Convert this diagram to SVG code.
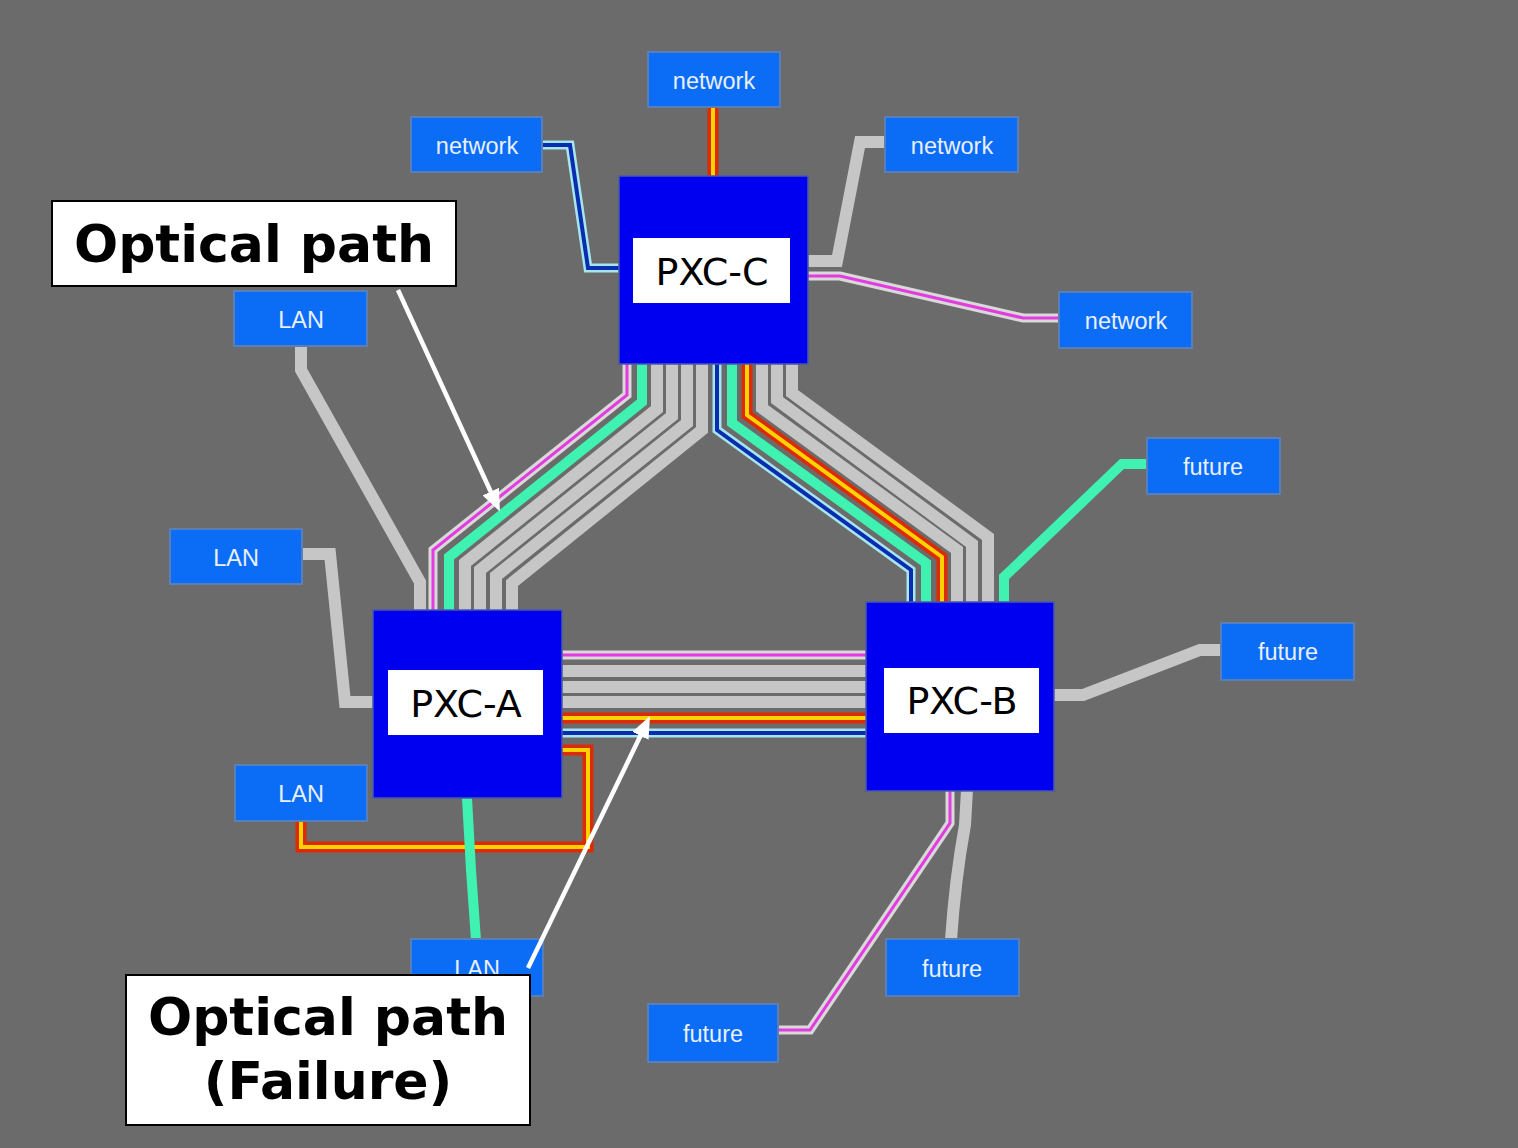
<svg xmlns="http://www.w3.org/2000/svg" width="1518" height="1148" viewBox="0 0 1518 1148">
<style>
.bg{fill:#6b6b6b}
.f{fill:none;stroke-linejoin:miter;stroke-miterlimit:10}
.g{stroke:#c6c6c6;stroke-width:12}
.mo{stroke:#d9d9d9;stroke-width:9}
.mi{stroke:#e23ce0;stroke-width:3}
.t{stroke:#3ff2b2;stroke-width:10}
.ro{stroke:#dd2a00;stroke-width:11}
.ri{stroke:#ffd200;stroke-width:4}
.bo{stroke:#a6e6ee;stroke-width:9}
.bi{stroke:#0a2cb0;stroke-width:4}
.sn rect{fill:#0b6cf6;stroke:#5a7fb8;stroke-width:2}
.sn text{fill:#e8f0ff;font-family:"Liberation Sans",Arial,sans-serif;font-size:23.5px;text-anchor:middle}
.px .box{fill:#0000f0;stroke:#4a5aa8;stroke-width:1.5}
.px .lbl{fill:#ffffff}
.px text{fill:#000;font-family:"DejaVu Sans",Verdana,sans-serif;font-size:38px;text-anchor:middle}
.co rect{fill:#fff;stroke:#000;stroke-width:2}
.co text{fill:#000;font-family:"DejaVu Sans",Verdana,sans-serif;font-weight:bold;font-size:52px;text-anchor:middle}
.ar{stroke:#fff;stroke-width:4.5;fill:none}
</style>
<defs>
<marker id="ah" markerUnits="userSpaceOnUse" markerWidth="22" markerHeight="18" refX="10" refY="9" orient="auto">
<path d="M0,0 L22,9 L0,18 z" fill="#fff"/>
</marker>
<!-- C to A bundle -->
<path id="ca0" class="f" d="M627 364 V395 L433 550 V611"/>
<path id="ca1" class="f" d="M642 364 V402 L449 557 V611"/>
<path id="ca2" class="f" d="M657 364 V409 L465 563 V611"/>
<path id="ca3" class="f" d="M672 364 V416 L480 570 V611"/>
<path id="ca4" class="f" d="M687 364 V423 L496 576 V611"/>
<path id="ca5" class="f" d="M702 364 V430 L512 583 V611"/>
<!-- C to B bundle -->
<path id="cb0" class="f" d="M717 364 V430 L911 570 V603"/>
<path id="cb1" class="f" d="M732 364 V423 L926 563 V603"/>
<path id="cb2" class="f" d="M747 364 V415 L942 557 V603"/>
<path id="cb3" class="f" d="M762 364 V408 L957 550 V603"/>
<path id="cb4" class="f" d="M777 364 V400 L972 544 V603"/>
<path id="cb5" class="f" d="M792 364 V393 L988 537 V603"/>
<!-- A to B bundle -->
<path id="ab0" class="f" d="M561 655 H866"/>
<path id="ab1" class="f" d="M561 671 H866"/>
<path id="ab2" class="f" d="M561 687 H866"/>
<path id="ab3" class="f" d="M561 702 H866"/>
<path id="ab4" class="f" d="M561 718 H866"/>
<path id="ab5" class="f" d="M561 733 H866"/>
<!-- access links -->
<path id="nTop" class="f" d="M713 107 V177"/>
<path id="nLeft" class="f" d="M542 145 H570 L588 268 H620"/>
<path id="nRight" class="f" d="M885 142 H860 L837 261 H808"/>
<path id="nFar" class="f" d="M808 276 H840 L1023 318 H1059"/>
<path id="lTop" class="f" d="M301 346 V370 L420 582 V611"/>
<path id="lMid" class="f" d="M302 554 H330 L345 702 H373"/>
<path id="lLow" class="f" d="M301 821 V847 H588 V750 H561"/>
<path id="lBot" class="f" d="M467 798 L471 870 L476 940"/>
<path id="fu1" class="f" d="M1004 603 V577 L1122 464 H1147"/>
<path id="fu2" class="f" d="M1053 695 H1083 L1200 650 H1222"/>
<path id="fu3" class="f" d="M967 790 L965 825 Q955 880 951 940"/>
<path id="fu4" class="f" d="M950 790 V823 L810 1030 H778"/>
</defs>
<rect class="bg" x="0" y="0" width="1518" height="1148"/>
<g id="connectors">
<use href="#ca0" class="mo"/><use href="#ca0" class="mi"/>
<use href="#ca1" class="t"/>
<use href="#ca2" class="g"/>
<use href="#ca3" class="g"/>
<use href="#ca4" class="g"/>
<use href="#ca5" class="g"/>
<use href="#cb0" class="bo"/><use href="#cb0" class="bi"/>
<use href="#cb1" class="t"/>
<use href="#cb2" class="ro"/><use href="#cb2" class="ri"/>
<use href="#cb3" class="g"/>
<use href="#cb4" class="g"/>
<use href="#cb5" class="g"/>
<use href="#ab0" class="mo"/><use href="#ab0" class="mi"/>
<use href="#ab1" class="g"/>
<use href="#ab2" class="g"/>
<use href="#ab3" class="g"/>
<use href="#ab4" class="ro"/><use href="#ab4" class="ri"/>
<use href="#ab5" class="bo"/><use href="#ab5" class="bi"/>
<use href="#nTop" class="ro"/><use href="#nTop" class="ri"/>
<use href="#nLeft" class="bo"/><use href="#nLeft" class="bi"/>
<use href="#nRight" class="g"/>
<use href="#nFar" class="mo"/><use href="#nFar" class="mi"/>
<use href="#lTop" class="g"/>
<use href="#lMid" class="g"/>
<use href="#lLow" class="ro"/><use href="#lLow" class="ri"/>
<use href="#lBot" class="t"/>
<use href="#fu1" class="t"/>
<use href="#fu2" class="g"/>
<use href="#fu3" class="g"/>
<use href="#fu4" class="mo"/><use href="#fu4" class="mi"/>
</g>
<g id="pxc-c" class="px"><rect class="box" x="619" y="176" width="189" height="188"/><rect class="lbl" x="633" y="238" width="157" height="65"/><text x="712" y="285">PXC-C</text></g>
<g id="pxc-a" class="px"><rect class="box" x="373" y="610" width="189" height="188"/><rect class="lbl" x="388" y="670" width="155" height="65"/><text x="466" y="717">PXC-A</text></g>
<g id="pxc-b" class="px"><rect class="box" x="866" y="602" width="188" height="189"/><rect class="lbl" x="884" y="668" width="155" height="65"/><text x="962" y="714">PXC-B</text></g>
<g id="net-top" class="sn"><rect x="648" y="52" width="132" height="55"/><text x="714" y="89">network</text></g>
<g id="net-left" class="sn"><rect x="411" y="117" width="131" height="55"/><text x="477" y="154">network</text></g>
<g id="net-right" class="sn"><rect x="885" y="117" width="133" height="55"/><text x="952" y="154">network</text></g>
<g id="net-far" class="sn"><rect x="1059" y="292" width="133" height="56"/><text x="1126" y="329">network</text></g>
<g id="lan-top" class="sn"><rect x="234" y="291" width="133" height="55"/><text x="301" y="328">LAN</text></g>
<g id="lan-mid" class="sn"><rect x="170" y="529" width="132" height="55"/><text x="236" y="566">LAN</text></g>
<g id="lan-low" class="sn"><rect x="235" y="765" width="132" height="56"/><text x="301" y="802">LAN</text></g>
<g id="lan-bot" class="sn"><rect x="411" y="939" width="132" height="57"/><text x="477" y="977">LAN</text></g>
<g id="fut-1" class="sn"><rect x="1147" y="438" width="133" height="56"/><text x="1213" y="475">future</text></g>
<g id="fut-2" class="sn"><rect x="1221" y="623" width="133" height="57"/><text x="1288" y="660">future</text></g>
<g id="fut-3" class="sn"><rect x="886" y="939" width="133" height="57"/><text x="952" y="977">future</text></g>
<g id="fut-4" class="sn"><rect x="648" y="1004" width="130" height="58"/><text x="713" y="1042">future</text></g>
<g id="callout-path" class="co"><rect x="52" y="201" width="404" height="85"/><text x="254" y="262">Optical path</text></g>
<g id="callout-failure" class="co"><rect x="126" y="975" width="404" height="150"/><text x="328" y="1035">Optical path</text><text x="328" y="1099">(Failure)</text></g>
<g id="callout-arrows">
<line class="ar" x1="398" y1="290" x2="494.9" y2="500.7" marker-end="url(#ah)"/>
<line class="ar" x1="528" y1="968" x2="644.8" y2="726.8" marker-end="url(#ah)"/>
</g>
</svg>
